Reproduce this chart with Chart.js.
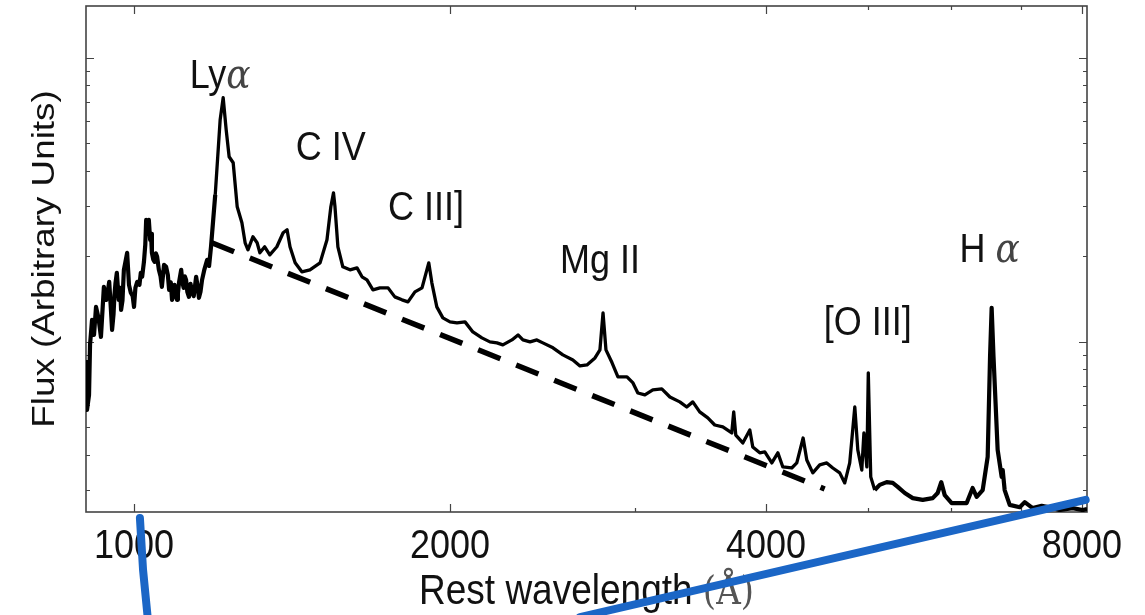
<!DOCTYPE html>
<html>
<head>
<meta charset="utf-8">
<script src="https://cdn.jsdelivr.net/npm/chart.js@4.4.1/dist/chart.umd.min.js"></script>
<style>
  html, body { margin: 0; padding: 0; background: #fff; }
  #wrap { width: 1145px; height: 615px; position: relative; }
</style>
</head>
<body>
<div id="wrap"><canvas id="spectrum"></canvas></div>
<script>
// composite quasar spectrum, rest frame (Angstrom / arbitrary flux)
const wavelength = [
  900, 902, 906, 908, 912, 916, 920, 925, 930, 936,
  941, 944, 947, 950, 953, 956, 958, 960, 963, 967,
  970, 972, 975, 978, 981, 985, 989, 993, 997, 1000,
  1003, 1007, 1012, 1015, 1018, 1022, 1025, 1027, 1030, 1033,
  1036, 1038, 1040, 1043, 1046, 1049, 1052, 1056, 1060, 1063,
  1068, 1073, 1077, 1080, 1084, 1087, 1090, 1093, 1096, 1099,
  1101, 1104, 1109, 1112, 1115, 1118, 1121, 1124, 1128, 1132,
  1136, 1140, 1146, 1150, 1153, 1157, 1161, 1167, 1174, 1179,
  1184, 1195, 1208, 1216, 1224, 1232, 1243, 1254, 1267, 1276,
  1284, 1298, 1310, 1318, 1332, 1347, 1368, 1387, 1399, 1408,
  1424, 1445, 1471, 1504, 1527, 1540, 1549, 1554, 1564, 1581,
  1606, 1631, 1649, 1667, 1689, 1715, 1746, 1772, 1800, 1824,
  1852, 1881, 1909, 1922, 1943, 1969, 2000, 2031, 2067, 2103,
  2145, 2183, 2217, 2246, 2291, 2322, 2347, 2384, 2420, 2452,
  2507, 2562, 2619, 2660, 2701, 2749, 2779, 2798, 2816, 2854,
  2891, 2949, 2988, 3020, 3067, 3121, 3183, 3240, 3311, 3362,
  3407, 3459, 3521, 3575, 3639, 3711, 3727, 3744, 3802, 3861,
  3886, 3946, 3990, 4052, 4106, 4151, 4233, 4280, 4340, 4375,
  4433, 4501, 4571, 4632, 4703, 4755, 4807, 4861, 4893, 4936,
  4959, 4991, 5007, 5034, 5078, 5134, 5213, 5283, 5341, 5424,
  5520, 5642, 5767, 5830, 5876, 5921, 6012, 6118, 6213, 6295,
  6351, 6435, 6506, 6540, 6563, 6590, 6650, 6709, 6724, 6753,
  6828, 6980, 7057, 7181, 7324, 7454, 7617, 7838, 8013, 8090
];
const flux = [
  0.864, 0.576, 0.651, 0.976, 1.195, 1.058, 1.328, 1.215, 1.041, 1.562,
  1.406, 1.500, 1.627, 1.350, 1.102, 1.250, 1.464, 1.600, 1.750, 1.406,
  1.550, 1.296, 1.400, 1.793, 1.900, 2.058, 1.587, 1.488, 1.450, 1.328,
  1.550, 1.627, 1.587, 1.750, 1.694, 1.913, 2.200, 2.689, 2.450, 2.689,
  2.287, 2.400, 2.058, 1.950, 1.913, 2.050, 1.992, 1.793, 1.700, 1.562,
  1.866, 1.837, 1.720, 1.524, 1.620, 1.406, 1.450, 1.587, 1.500, 1.406,
  1.480, 1.627, 1.793, 1.620, 1.549, 1.700, 1.653, 1.500, 1.440, 1.600,
  1.488, 1.450, 1.694, 1.560, 1.429, 1.500, 1.653, 1.800, 1.944, 1.850,
  2.161, 3.293, 6.049, 7.231, 5.579, 4.481, 4.269, 2.988, 2.624, 2.232,
  2.108, 2.343, 2.232, 2.058, 2.161, 2.025, 2.161, 2.420, 2.480, 2.161,
  1.897, 1.764, 1.793, 1.897, 2.287, 2.988, 3.346, 2.988, 2.161, 1.837,
  1.793, 1.822, 1.694, 1.653, 1.524, 1.549, 1.549, 1.440, 1.406, 1.383,
  1.500, 1.549, 1.897, 1.614, 1.328, 1.215, 1.176, 1.166, 1.176, 1.084,
  1.033, 1.000, 0.992, 0.976, 1.016, 1.058, 1.016, 1.000, 1.016, 0.992,
  0.953, 0.900, 0.864, 0.823, 0.830, 0.878, 0.937, 1.265, 0.937, 0.844,
  0.753, 0.753, 0.717, 0.661, 0.651, 0.678, 0.683, 0.640, 0.615, 0.590,
  0.615, 0.567, 0.540, 0.510, 0.502, 0.478, 0.567, 0.470, 0.441, 0.490,
  0.427, 0.407, 0.410, 0.375, 0.407, 0.363, 0.360, 0.375, 0.459, 0.384,
  0.346, 0.369, 0.375, 0.360, 0.346, 0.319, 0.375, 0.590, 0.417, 0.354,
  0.478, 0.363, 0.778, 0.335, 0.301, 0.314, 0.321, 0.319, 0.309, 0.294,
  0.282, 0.278, 0.282, 0.294, 0.321, 0.289, 0.271, 0.271, 0.271, 0.306,
  0.285, 0.301, 0.394, 0.886, 1.317, 0.886, 0.417, 0.335, 0.354, 0.301,
  0.267, 0.262, 0.273, 0.260, 0.265, 0.262, 0.256, 0.260, 0.256, 0.258
];

// power-law continuum fit
const continuumWave = [1186, 4550];
const continuumFlux = [2.232, 0.3037];

// emission line labels
const lineLabels = ['Lyα', 'C IV', 'C III]', 'Mg II', '[O III]', 'H α'];
const labelWave = [1208, 1540, 1897, 2779, 5000, 6535];
const labelFlux = [7.84, 4.375, 2.689, 1.75, 1.058, 1.913];

// hand-drawn blue marker strokes
const markWave1 = [1013, 1020, 1031];
const markFlux1 = [0.240, 0.1575, 0.105];
const markWave2 = [8066, 2660];
const markFlux2 = [0.278, 0.1076];

// axis ticks
const xMajorTicks = [1000, 2000, 4000, 8000];
const xMinorTicks = [3000, 5000, 6000, 7000];
const yMajorTicks = [1, 10];
const yMinorTicks = [0.3, 0.4, 0.5, 0.6, 0.7, 0.8, 0.9, 2, 3, 4, 5, 6, 7, 8, 9];

const X_MIN = 900, X_MAX = 8090, Y_MIN = 0.252, Y_MAX = 15.2;
const FOREST_END = 1190, RED_NOISE_START = 5050;
const STRETCH = 1.15;
const SANS = '"Liberation Sans", Arial, Helvetica, sans-serif';
const SERIF = '"DejaVu Serif", "Liberation Serif", serif';

const pts = (xs, ys) => xs.map((x, i) => ({ x: x, y: ys[i] }));

// text with the tall aspect of the original figure
function tallText(ctx, parts, cx, baseY, align) {
    ctx.save();
    ctx.translate(cx, baseY);
    ctx.scale(1, STRETCH);
    ctx.textBaseline = 'alphabetic';
    let total = 0;
    parts.forEach(p => { ctx.font = p.font; p.w = ctx.measureText(p.t).width; total += p.w; });
    let x = align === 'center' ? -total / 2 : 0;
    parts.forEach(p => {
        ctx.font = p.font; ctx.fillStyle = p.color; ctx.textAlign = 'left';
        ctx.fillText(p.t, x, 0);
        x += p.w;
    });
    ctx.restore();
}

function splitGreek(str, size) {
    return str.split(/(α)/).filter(s => s.length).map(s => s === 'α'
        ? { t: s, font: `italic ${size}px ${SERIF}`, color: '#444' }
        : { t: s, font: `${size}px ${SANS}`, color: '#111' });
}

const framePlugin = {
    id: 'framePlugin',
    beforeDatasetsDraw(chart) {
        const { ctx, chartArea: a, scales: { x, y } } = chart;
        ctx.save();
        ctx.strokeStyle = '#444';
        ctx.lineWidth = 1.6;
        ctx.strokeRect(a.left, a.top, a.right - a.left, a.bottom - a.top);

        ctx.lineWidth = 1.2;
        const xTick = (v, len) => {
            const px = Math.round(x.getPixelForValue(v)) + 0.5;
            ctx.beginPath();
            ctx.moveTo(px, a.bottom); ctx.lineTo(px, a.bottom - len);
            ctx.moveTo(px, a.top); ctx.lineTo(px, a.top + len);
            ctx.stroke();
        };
        const yTick = (v, len) => {
            const py = Math.round(y.getPixelForValue(v)) + 0.5;
            ctx.beginPath();
            ctx.moveTo(a.left, py); ctx.lineTo(a.left + len, py);
            ctx.moveTo(a.right, py); ctx.lineTo(a.right - len, py);
            ctx.stroke();
        };
        xMajorTicks.forEach(v => xTick(v, 8));
        xMinorTicks.forEach(v => xTick(v, 4));
        yMajorTicks.forEach(v => yTick(v, 8));
        yMinorTicks.forEach(v => yTick(v, 4));
        ctx.restore();

        // tick labels
        xMajorTicks.forEach(v => {
            tallText(ctx, [{ t: String(v), font: `36px ${SANS}`, color: '#111' }],
                x.getPixelForValue(v), a.bottom + 46, 'center');
        });

        // axis titles
        const midX = (a.left + a.right) / 2;
        tallText(ctx, [
            { t: 'Rest wavelength ', font: `37px ${SANS}`, color: '#111' },
            { t: '(Å)', font: `34px ${SERIF}`, color: '#555' }
        ], midX, a.bottom + 92, 'center');

        ctx.save();
        ctx.translate(54, (a.top + a.bottom) / 2);
        ctx.scale(1, STRETCH);
        ctx.rotate(-Math.PI / 2);
        ctx.font = `32px ${SANS}`;
        ctx.fillStyle = '#111';
        ctx.textAlign = 'center';
        ctx.textBaseline = 'alphabetic';
        ctx.fillText('Flux (Arbitrary Units)', 0, 0);
        ctx.restore();

        // emission line names
        lineLabels.forEach((lab, i) => {
            tallText(ctx, splitGreek(lab, 36), x.getPixelForValue(labelWave[i]),
                y.getPixelForValue(labelFlux[i]), 'center');
        });
    }
};

new Chart(document.getElementById('spectrum'), {
    type: 'line',
    data: {
        datasets: [
            {
                data: pts(markWave1, markFlux1), borderColor: '#1b66c6', borderWidth: 8,
                borderCapStyle: 'round', pointRadius: 0, clip: false, order: 0
            },
            {
                data: pts(markWave2, markFlux2), borderColor: '#1b66c6', borderWidth: 8,
                borderCapStyle: 'round', pointRadius: 0, clip: false, order: 0
            },
            {
                data: pts(wavelength, flux), borderColor: '#000', borderWidth: 3.3,
                borderJoinStyle: 'round', pointRadius: 0, tension: 0, order: 1,
                // the noisy ends of the spectrum read as a heavier band
                segment: {
                    borderWidth: c => (c.p0.parsed.x < FOREST_END || c.p0.parsed.x > RED_NOISE_START) ? 4.2 : 3.3
                }
            },
            {
                data: pts(continuumWave, continuumFlux), borderColor: '#000', borderWidth: 5.5,
                borderDash: [24, 17], borderCapStyle: 'butt', pointRadius: 0, order: 2
            }
        ]
    },
    options: {
        responsive: true,
        maintainAspectRatio: false,
        animation: false,
        layout: { padding: { left: 86, right: 58, top: 6, bottom: 103 } },
        scales: {
            x: { type: 'logarithmic', min: X_MIN, max: X_MAX, display: false },
            y: { type: 'logarithmic', min: Y_MIN, max: Y_MAX, display: false }
        },
        plugins: { legend: { display: false }, tooltip: { enabled: false } }
    },
    plugins: [framePlugin]
});
</script>
</body>
</html>
